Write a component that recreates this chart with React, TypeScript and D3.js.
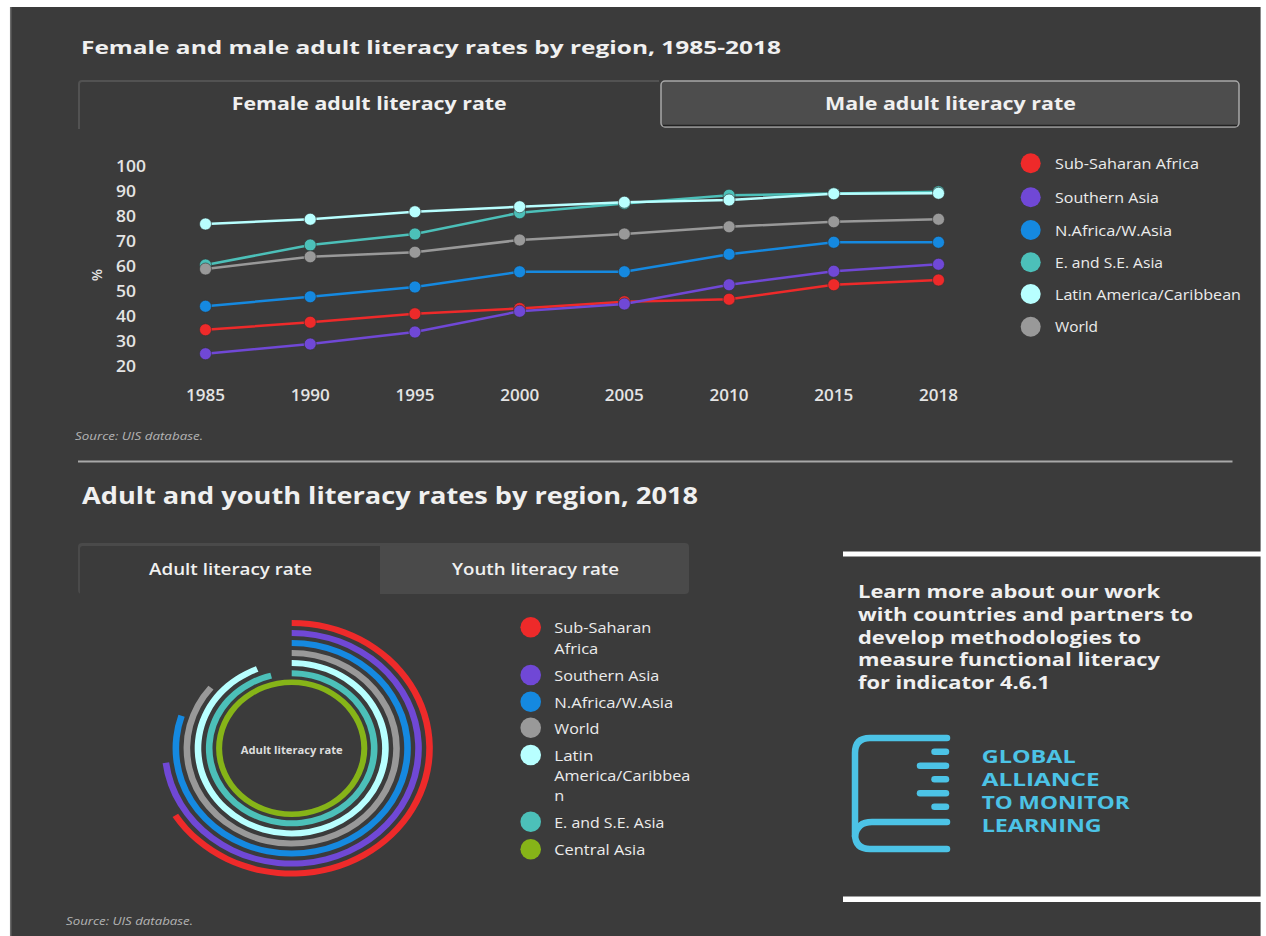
import React from "react";
import * as d3 from "d3";

// ---------- DATA ----------
const YEARS = ["1985", "1990", "1995", "2000", "2005", "2010", "2015", "2018"];
const Y_TICKS = [20, 30, 40, 50, 60, 70, 80, 90, 100];

const subSaharan = [34.5, 37.5, 40.9, 43.0, 45.7, 46.7, 52.5, 54.4];
const southernAsia = [24.9, 28.8, 33.6, 41.9, 44.8, 52.5, 57.9, 60.7];
const nAfricaWAsia = [43.9, 47.7, 51.6, 57.7, 57.7, 64.7, 69.5, 69.5];
const eSEAsia = [60.4, 68.4, 72.8, 81.3, 85.0, 88.3, 89.0, 89.7];
const latinAmerica = [76.8, 78.7, 81.7, 83.7, 85.5, 86.4, 88.9, 89.1];
const world = [58.8, 63.7, 65.5, 70.4, 72.8, 75.7, 77.7, 78.7];

const LINE_SERIES_NAMES = [
  "Sub-Saharan Africa",
  "Southern Asia",
  "N.Africa/W.Asia",
  "E. and S.E. Asia",
  "Latin America/Caribbean",
  "World",
];

// Adult literacy rate 2018 (radial)
const RADIAL_NAMES = [
  "Sub-Saharan Africa",
  "Southern Asia",
  "N.Africa/W.Asia",
  "World",
  "Latin America/Caribbean",
  "E. and S.E. Asia",
  "Central Asia",
];
const adultLiteracy2018 = [66, 73, 80, 86, 94, 96, 100];

const COLORS: Record<string, string> = {
  "Sub-Saharan Africa": "#ee2a2a",
  "Southern Asia": "#7048d6",
  "N.Africa/W.Asia": "#1589e0",
  "E. and S.E. Asia": "#4cc0b9",
  "Latin America/Caribbean": "#b8ffff",
  World: "#999999",
  "Central Asia": "#86b418",
};

const LINE_DATA: Record<string, number[]> = {
  "Sub-Saharan Africa": subSaharan,
  "Southern Asia": southernAsia,
  "N.Africa/W.Asia": nAfricaWAsia,
  "E. and S.E. Asia": eSEAsia,
  "Latin America/Caribbean": latinAmerica,
  World: world,
};
// drawing order
const DRAW_ORDER = [
  "Sub-Saharan Africa",
  "Southern Asia",
  "N.Africa/W.Asia",
  "E. and S.E. Asia",
  "Latin America/Caribbean",
  "World",
];

const LEGEND1_WIDTHS = [144, 104, 117, 108, 186, 43];

const LEGEND2_LINES: string[][] = [
  ["Sub-Saharan", "Africa"],
  ["Southern Asia"],
  ["N.Africa/W.Asia"],
  ["World"],
  ["Latin", "America/Caribbea", "n"],
  ["E. and S.E. Asia"],
  ["Central Asia"],
];
const LEGEND2_WIDTHS: number[][] = [[97, 44], [105], [119], [45], [39, 136, 10], [110], [91]];
const LEGEND2_Y = [627.3, 675, 701.7, 727.7, 755, 821.7, 849.3];

const PROMO_LINES = [
  "Learn more about our work",
  "with countries and partners to",
  "develop methodologies to",
  "measure functional literacy",
  "for indicator 4.6.1",
];
const PROMO_WIDTHS = [302, 335, 283, 302, 192];

const LOGO_LINES = ["GLOBAL", "ALLIANCE", "TO MONITOR", "LEARNING"];
const LOGO_WIDTHS = [94, 118, 148, 120];

const FONT = "'Open Sans', 'Noto Sans', sans-serif";
const PANEL = "#3b3b3b";
const TXT = "#f0f0f0";

export default function App() {
  const x = d3.scalePoint<string>().domain(YEARS).range([205.5, 938.5]);
  const y = d3.scaleLinear().domain([20, 100]).range([366, 166]);
  const line = d3
    .line<number>()
    .x((_, i) => x(YEARS[i]) as number)
    .y((d) => y(d));

  const cx = 291.7;
  const cy = 748.3;
  const radii = [125.3, 115.3, 105.3, 95.3, 85.2, 75, 66];
  const widths = [6, 6, 6, 6, 6, 6, 5.5];
  const arc = d3.arc();

  const legend1Y = [163.3, 197.3, 230, 262.3, 294, 326.7];

  return (
    <svg
      width={1266}
      height={936}
      style={{ position: "absolute", left: 0, top: 0, background: "#fff" }}
      fontFamily={FONT}
    >
      <rect x={0} y={0} width={1266} height={936} fill="#ffffff" />
      <rect x={10} y={7} width={1251} height={929} fill={PANEL} />
      <line x1={10.7} y1={7} x2={10.7} y2={936} stroke="#6a6a6a" strokeWidth={1.5} />
      <line x1={1260.5} y1={7} x2={1260.5} y2={936} stroke="#8a8a8a" strokeWidth={1} />

      {/* Title 1 */}
      <text x={81} y={54} fontSize={18} fontWeight={700} fill={TXT} textLength={700} lengthAdjust="spacingAndGlyphs">
        Female and male adult literacy rates by region, 1985-2018
      </text>

      {/* Tabs 1 */}
      <path d="M79,129 V84 Q79,81 82,81 H659" fill="none" stroke="#525252" strokeWidth={2} />
      <rect x={661} y={81} width={578} height={46} rx={4} fill="#4d4d4d" stroke="#a8a8a8" strokeWidth={1.5} />
      <line x1={663} y1={125.5} x2={1237} y2={125.5} stroke="#222" strokeWidth={1.5} />
      <text x={231.7} y={110} fontSize={17} fontWeight={700} fill={TXT} textLength={275} lengthAdjust="spacingAndGlyphs">
        Female adult literacy rate
      </text>
      <text x={825} y={110} fontSize={17} fontWeight={700} fill={TXT} textLength={251} lengthAdjust="spacingAndGlyphs">
        Male adult literacy rate
      </text>

      {/* Y axis */}
      {Y_TICKS.map((t) => (
        <text key={t} x={116} y={y(t) + 6} fontSize={16.5} fontWeight={600} fill="#e4e4e4" textLength={t === 100 ? 30 : 20} lengthAdjust="spacingAndGlyphs">
          {t}
        </text>
      ))}
      <text
        transform="translate(97,275) rotate(90)"
        textAnchor="middle"
        dy={5}
        fontSize={14}
        fontWeight={600}
        fill="#e4e4e4"
      >
        %
      </text>

      {/* X axis */}
      {YEARS.map((yr) => (
        <text key={yr} x={x(yr)} y={401} textAnchor="middle" fontSize={16} fontWeight={600} fill="#e4e4e4" textLength={39} lengthAdjust="spacingAndGlyphs">
          {yr}
        </text>
      ))}

      {/* Lines */}
      {DRAW_ORDER.map((name) => (
        <g key={name}>
          <path d={line(LINE_DATA[name]) || ""} fill="none" stroke={COLORS[name]} strokeWidth={2.5} />
          {LINE_DATA[name].map((v, i) => (
            <circle key={i} cx={x(YEARS[i])} cy={y(v)} r={6} fill={COLORS[name]} stroke="#333" strokeWidth={0.6} />
          ))}
        </g>
      ))}

      {/* Legend 1 */}
      {LINE_SERIES_NAMES.map((name, i) => (
        <g key={name}>
          <circle cx={1030.7} cy={legend1Y[i]} r={10} fill={COLORS[name]} />
          <text x={1055} y={legend1Y[i] + 5.5} fontSize={15} fill="#ececec" textLength={LEGEND1_WIDTHS[i]} lengthAdjust="spacingAndGlyphs">
            {name}
          </text>
        </g>
      ))}

      {/* Source 1 */}
      <text x={75} y={440} fontSize={10} fontStyle="italic" fill="#b4b4b4" textLength={128} lengthAdjust="spacingAndGlyphs">
        Source: UIS database.
      </text>

      {/* Divider */}
      <line x1={78} y1={461.5} x2={1232.5} y2={461.5} stroke="#a8a8a8" strokeWidth={2} />

      {/* Title 2 */}
      <text x={82} y={504} fontSize={23} fontWeight={700} fill={TXT} textLength={616} lengthAdjust="spacingAndGlyphs">
        Adult and youth literacy rates by region, 2018
      </text>

      {/* Tabs 2 */}
      <rect x={78} y={543} width={611} height={51} rx={4} fill="#4a4a4a" />
      <path d="M80,594 V549 Q80,546 83,546 H380 V594 Z" fill={PANEL} />
      <text x={149} y={575} fontSize={17} fontWeight={600} fill={TXT} textLength={163} lengthAdjust="spacingAndGlyphs">
        Adult literacy rate
      </text>
      <text x={452} y={575} fontSize={17} fontWeight={600} fill={TXT} textLength={167} lengthAdjust="spacingAndGlyphs">
        Youth literacy rate
      </text>

      {/* Radial chart */}
      <g transform={`translate(${cx},${cy}) scale(1.1,1)`}>
        {RADIAL_NAMES.map((name, i) => (
          <path
            key={name}
            d={
              arc({
                innerRadius: radii[i] - widths[i] / 2,
                outerRadius: radii[i] + widths[i] / 2,
                startAngle: 0,
                endAngle: (adultLiteracy2018[i] / 100) * Math.PI * 2,
              }) || ""
            }
            fill={COLORS[name]}
          />
        ))}
      </g>
      <text x={cx} y={753.5} textAnchor="middle" fontSize={10} fontWeight={700} fill="#dddddd" textLength={102} lengthAdjust="spacingAndGlyphs">
        Adult literacy rate
      </text>

      {/* Legend 2 */}
      {RADIAL_NAMES.map((name, i) => (
        <g key={name}>
          <circle cx={530.7} cy={LEGEND2_Y[i]} r={10.3} fill={COLORS[name]} />
          {LEGEND2_LINES[i].map((ln, j) => (
            <text key={j} x={554.3} y={LEGEND2_Y[i] + 6 + j * 20.2} fontSize={15} fill="#ececec" textLength={LEGEND2_WIDTHS[i][j]} lengthAdjust="spacingAndGlyphs">
              {ln}
            </text>
          ))}
        </g>
      ))}

      {/* Source 2 */}
      <text x={66} y={925} fontSize={10} fontStyle="italic" fill="#b4b4b4" textLength={127} lengthAdjust="spacingAndGlyphs">
        Source: UIS database.
      </text>

      {/* Promo box */}
      <rect x={843} y={551.5} width={423} height={5} fill="#ffffff" />
      <rect x={843} y={896.5} width={423} height={5.5} fill="#ffffff" />
      {PROMO_LINES.map((ln, i) => (
        <text key={i} x={858} y={598.3 + i * 22.6} fontSize={17.5} fontWeight={700} fill={TXT} textLength={PROMO_WIDTHS[i]} lengthAdjust="spacingAndGlyphs">
          {ln}
        </text>
      ))}

      {/* Logo */}
      <g stroke="#4cc3e6" fill="none" strokeLinecap="round" strokeWidth={6.5}>
        <path d="M947,738 H870 Q855,738 855,753 V834 Q855,849 870,849 H947" />
        <path d="M947,822 H872 Q857,822 855,836" />
        <line x1={934.5} y1={751.7} x2={946} y2={751.7} />
        <line x1={920} y1={765.7} x2={946} y2={765.7} />
        <line x1={934.5} y1={779.3} x2={946} y2={779.3} />
        <line x1={920} y1={793.3} x2={946} y2={793.3} />
        <line x1={934.5} y1={806.7} x2={946} y2={806.7} />
      </g>
      {LOGO_LINES.map((ln, i) => (
        <text key={ln} x={981.7} y={762.5 + i * 23.2} fontSize={18} fontWeight={700} fill="#4cc3e6" textLength={LOGO_WIDTHS[i]} lengthAdjust="spacingAndGlyphs">
          {ln}
        </text>
      ))}
    </svg>
  );
}
